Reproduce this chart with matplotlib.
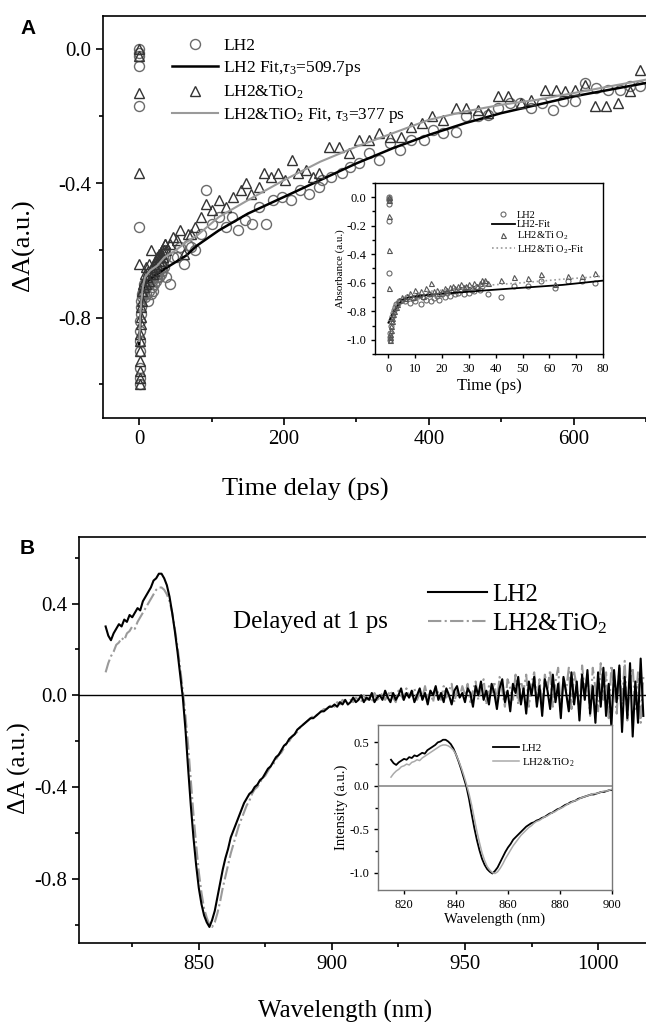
import numpy as np
import matplotlib
matplotlib.use('Agg')
import matplotlib.pyplot as plt
from matplotlib.ticker import MultipleLocator

plt.rcParams['font.family'] = 'Liberation Serif'
plt.rcParams['mathtext.fontset'] = 'custom'
plt.rcParams['mathtext.rm'] = 'Liberation Serif'
plt.rcParams['mathtext.it'] = 'Liberation Serif:italic'

# ---- panel A: kinetics (time in ps, dA in a.u.)
t_lh2 = [0.3, 0.3, 0.3, 0.3, 0.3, 0.3, 0.5, 0.6, 0.7, 0.8, 1.0, 1.3, 1.6, 2.0, 2.5, 3.0, 3.5, 4, 5, 6,
         7, 8, 9, 10, 11, 12, 13, 14, 15, 16, 17, 18, 19, 20, 21, 22, 23, 24, 25, 26,
         27, 28, 29, 30, 31, 32, 33, 34, 35, 36, 37, 42, 47, 52, 57, 62, 67, 72, 77,
         85, 92, 100, 110, 120, 128, 137, 146, 156, 165, 175, 185, 197, 210, 222, 235, 248,
         252, 265, 280, 291, 303, 317, 331, 347, 360, 375, 393, 406, 420, 437, 452, 468,
         482, 496, 512, 526, 541, 556, 572, 585, 602, 616, 631, 647, 664, 678, 692]
a_lh2 = [0.0, -0.01, -0.02, -0.05, -0.17, -0.53, -1.0, -0.98, -0.95, -0.90, -0.87, -0.84, -0.81, -0.79, -0.77, -0.75, -0.74, -0.73, -0.72, -0.73,
         -0.70, -0.74, -0.71, -0.73, -0.69, -0.75, -0.70, -0.72, -0.68, -0.73, -0.71, -0.69, -0.72, -0.68, -0.70, -0.67, -0.69, -0.66, -0.68, -0.67,
         -0.65, -0.68, -0.64, -0.67, -0.65, -0.66, -0.63, -0.65, -0.62, -0.60, -0.68, -0.70, -0.62, -0.62, -0.59, -0.64, -0.585, -0.59, -0.60,
         -0.55, -0.42, -0.52, -0.50, -0.53, -0.50, -0.54, -0.51, -0.52, -0.47, -0.52, -0.45, -0.44, -0.45, -0.42, -0.43, -0.41,
         -0.39, -0.38, -0.37, -0.35, -0.34, -0.31, -0.33, -0.28, -0.30, -0.27, -0.27, -0.24, -0.25, -0.245, -0.20, -0.20,
         -0.195, -0.175, -0.16, -0.16, -0.175, -0.16, -0.18, -0.155, -0.155, -0.10, -0.115, -0.12, -0.12, -0.11, -0.11]

t_tio2 = [0.3, 0.3, 0.3, 0.3, 0.3, 0.5, 0.6, 0.7, 0.8, 1.0, 1.2, 1.5, 1.8, 2.2, 2.7, 3.2, 4, 5, 6, 7,
          8, 9, 10, 11, 12, 13, 14, 15, 16, 17, 18, 19, 20, 21, 22, 23, 24, 25, 26, 27,
          28, 29, 30, 31, 32, 33, 34, 35, 36, 37, 42, 47, 52, 57, 62, 67, 72, 77,
          85, 92, 100, 110, 120, 130, 140, 147, 155, 165, 172, 182, 192, 202, 211, 220, 230, 240, 248,
          262, 276, 290, 303, 317, 331, 347, 362, 375, 390, 404, 420, 437, 452, 468, 482,
          496, 510, 528, 541, 560, 575, 588, 602, 616, 630, 645, 661, 678, 692]
a_tio2 = [0.0, -0.02, -0.13, -0.37, -0.64, -1.0, -0.98, -0.96, -0.93, -0.90, -0.87, -0.85, -0.82, -0.80, -0.77, -0.75, -0.72, -0.70, -0.71, -0.69,
          -0.67, -0.70, -0.65, -0.68, -0.66, -0.69, -0.64, -0.67, -0.60, -0.66, -0.65, -0.67, -0.66, -0.64, -0.65, -0.63, -0.62, -0.64, -0.62, -0.61,
          -0.63, -0.62, -0.61, -0.63, -0.60, -0.62, -0.60, -0.58, -0.58, -0.60, -0.58, -0.56, -0.57, -0.54, -0.61, -0.55, -0.55, -0.53,
          -0.50, -0.46, -0.48, -0.45, -0.47, -0.44, -0.42, -0.40, -0.43, -0.41, -0.37, -0.38, -0.37, -0.39, -0.33, -0.37, -0.36, -0.38, -0.37,
          -0.29, -0.29, -0.31, -0.27, -0.27, -0.25, -0.26, -0.26, -0.23, -0.22, -0.20, -0.21, -0.176, -0.176, -0.18, -0.19,
          -0.14, -0.14, -0.16, -0.15, -0.12, -0.12, -0.125, -0.12, -0.105, -0.17, -0.17, -0.16, -0.125, -0.06]

t_fit = [0, 0.5, 1, 2, 3, 5, 8, 15, 25, 35, 50, 65, 80, 110, 150, 200, 250, 300, 350, 400, 450, 500, 550, 600, 650, 700]
fit_lh2 = [-0.88, -0.86, -0.84, -0.80, -0.77, -0.72, -0.70, -0.685, -0.67, -0.655, -0.635, -0.615, -0.585,
           -0.54, -0.49, -0.44, -0.39, -0.34, -0.295, -0.255, -0.22, -0.19, -0.165, -0.14, -0.12, -0.10]
fit_tio2 = [-0.87, -0.85, -0.82, -0.78, -0.75, -0.71, -0.68, -0.66, -0.645, -0.62, -0.60, -0.575, -0.555,
            -0.50, -0.45, -0.39, -0.335, -0.29, -0.25, -0.21, -0.185, -0.165, -0.15, -0.13, -0.11, -0.09]

# ---- panel B: spectra at 1 ps delay, 1 nm steps from 815 nm
wl = np.arange(815, 1018)
s_lh2 = [0.30, 0.26, 0.24, 0.27, 0.29, 0.31, 0.30, 0.33, 0.32, 0.35,
         0.34, 0.36, 0.38, 0.37, 0.41, 0.43, 0.45, 0.47, 0.50, 0.51,
         0.53, 0.53, 0.51, 0.48, 0.43, 0.36, 0.28, 0.19, 0.09, -0.01,
         -0.15, -0.32, -0.48, -0.62, -0.74, -0.84, -0.91, -0.96, -0.99, -1.01,
         -0.98, -0.94, -0.88, -0.82, -0.76, -0.71, -0.67, -0.62, -0.59, -0.56,
         -0.53, -0.50, -0.47, -0.45, -0.43, -0.42, -0.40, -0.39, -0.37, -0.36,
         -0.34, -0.32, -0.31, -0.29, -0.27, -0.26, -0.24, -0.22, -0.21, -0.19,
         -0.18, -0.17, -0.15, -0.14, -0.13, -0.12, -0.11, -0.10, -0.10, -0.09,
         -0.08, -0.07, -0.07, -0.06, -0.05,
         -0.05, -0.04, -0.05, -0.03, -0.04, -0.02, -0.04, -0.03, -0.01, -0.03,
         -0.02, 0.00, -0.03, -0.01, -0.02, 0.01, -0.03, -0.01, 0.00, -0.02,
         0.02, -0.01, -0.03, 0.01, -0.02, 0.00, 0.03, -0.02, 0.01, -0.01,
         0.02, -0.03, 0.00, 0.03, -0.02, 0.01, -0.04, 0.02, 0.00, 0.04,
         -0.02, 0.01, -0.03, 0.03, 0.00, -0.04, 0.02, 0.04, -0.01, 0.01,
         -0.03, 0.03, 0.01, -0.05, 0.04, 0.00, 0.06, -0.02, 0.02, -0.04,
         0.05, 0.01, -0.06, 0.03, 0.07, -0.03, 0.02, -0.07, 0.05, 0.01,
         0.08, -0.04, 0.03, -0.08, 0.06, 0.00, 0.08, -0.05, 0.04, -0.09,
         0.07, 0.02, -0.06, 0.09, -0.03, 0.05, -0.10, 0.08, 0.01, -0.07,
         0.10, -0.04, 0.06, -0.11, 0.09, -0.02, 0.11, -0.08, 0.04, -0.12,
         0.10, -0.05, 0.12, -0.09, 0.05, -0.14, 0.11, -0.03, 0.13, -0.16,
         0.08, -0.10, 0.14, -0.18, 0.06, -0.12, 0.16, -0.09]
s_tio2 = [0.10, 0.14, 0.17, 0.19, 0.22, 0.23, 0.25, 0.24, 0.27, 0.28,
          0.30, 0.29, 0.32, 0.34, 0.36, 0.38, 0.40, 0.42, 0.44, 0.46,
          0.47, 0.47, 0.46, 0.44, 0.41, 0.36, 0.29, 0.21, 0.12, 0.02,
          -0.09, -0.22, -0.37, -0.52, -0.65, -0.77, -0.86, -0.93, -0.97, -1.00,
          -1.01, -0.99, -0.95, -0.90, -0.84, -0.79, -0.74, -0.69, -0.65, -0.61,
          -0.57, -0.54, -0.51, -0.48, -0.46, -0.43, -0.41, -0.40, -0.38, -0.36,
          -0.35, -0.33, -0.31, -0.30, -0.28, -0.26, -0.25, -0.23, -0.21, -0.20,
          -0.18, -0.17, -0.16, -0.14, -0.13, -0.12, -0.11, -0.10, -0.09, -0.09,
          -0.08, -0.07, -0.06, -0.06, -0.05,
          -0.04, -0.05, -0.03, -0.04, -0.02, -0.03, -0.04, -0.02, -0.03, -0.01,
          -0.02, -0.03, 0.00, -0.02, -0.01, -0.03, 0.01, -0.02, -0.01, 0.01,
          -0.02, 0.00, 0.02, -0.01, -0.03, 0.02, 0.00, -0.02, 0.03, -0.01,
          0.01, 0.03, -0.02, 0.01, -0.01, 0.04, -0.02, 0.02, -0.03, 0.03,
          0.01, -0.02, 0.04, -0.01, 0.02, 0.05, -0.03, 0.02, -0.01, 0.04,
          0.00, 0.05, -0.03, 0.02, 0.06, -0.02, 0.03, 0.07, -0.04, 0.04,
          0.01, 0.06, -0.03, 0.08, 0.02, -0.05, 0.07, 0.03, -0.02, 0.09,
          -0.04, 0.06, 0.02, 0.09, -0.05, 0.05, 0.10, -0.03, 0.07, -0.06,
          0.09, 0.03, 0.11, -0.05, 0.06, 0.12, -0.07, 0.08, 0.02, 0.12,
          -0.06, 0.10, 0.04, -0.08, 0.13, 0.01, 0.09, -0.09, 0.12, 0.03,
          -0.07, 0.14, -0.02, 0.10, -0.10, 0.13, 0.04, -0.08, 0.12, -0.04,
          0.15, -0.11, 0.07, 0.12, -0.06, 0.10, -0.12, 0.08]

t_lh2, a_lh2 = np.array(t_lh2), np.array(a_lh2)
t_tio2, a_tio2 = np.array(t_tio2), np.array(a_tio2)
s_lh2, s_tio2 = np.array(s_lh2), np.array(s_tio2)

CIRC = '#6a6a6a'
TRI = '#333333'
GREY = '#9a9a9a'

fig = plt.figure(figsize=(6.46, 10.22), dpi=100)


def style(ax, tick, major_len=5, minor_len=3, lw=1.2):
    for s in ax.spines.values():
        s.set_linewidth(lw)
    ax.tick_params(which='major', direction='out', length=major_len, width=lw, labelsize=tick)
    ax.tick_params(which='minor', direction='out', length=minor_len, width=lw)


# ================= A main
axA = fig.add_axes([103/646, 604/1022, 543/646, 402/1022])
axA.plot(t_lh2, a_lh2, 'o', ms=7.2, mfc='none', mec=CIRC, mew=1.0, label='LH2')
axA.plot(t_fit, fit_lh2, '-', color='black', lw=1.8, label=r'LH2 Fit,$\tau_3$=509.7ps')
axA.plot(t_tio2, a_tio2, '^', ms=7.2, mfc='none', mec=TRI, mew=1.0, label=r'LH2&TiO$_2$')
axA.plot(t_fit, fit_tio2, '-', color=GREY, lw=1.5, label=r'LH2&TiO$_2$ Fit, $\tau_3$=377 ps')
axA.set_xlim(-50, 700)
axA.set_ylim(-1.1, 0.1)
axA.xaxis.set_major_locator(MultipleLocator(200))
axA.xaxis.set_minor_locator(MultipleLocator(100))
axA.yaxis.set_major_locator(MultipleLocator(0.4))
axA.yaxis.set_minor_locator(MultipleLocator(0.2))
axA.yaxis.set_major_formatter(plt.FormatStrFormatter('%.1f'))
style(axA, 15)
axA.spines['right'].set_visible(False)
axA.set_xlabel('Time delay (ps)', fontsize=19)
axA.xaxis.set_label_coords(0.372, -0.15)
axA.set_ylabel('ΔA(a.u.)', fontsize=19)
axA.yaxis.set_label_coords(-0.125, 0.43)
axA.legend(loc='upper left', bbox_to_anchor=(0.127, 0.945), frameon=False, fontsize=12.5,
           handlelength=2.65, handletextpad=0.3, labelspacing=0.3, borderpad=0, borderaxespad=0,
           numpoints=1)

# ================= A inset
axAi = fig.add_axes([375/646, 668/1022, 228/646, 171/1022])
m = t_lh2 <= 80
axAi.plot(t_lh2[m], a_lh2[m], 'o', ms=3.6, mfc='none', mec=CIRC, mew=0.8, label='LH2')
tf = np.array(t_fit)
mf = tf <= 80
axAi.plot(tf[mf], np.array(fit_lh2)[mf], '-', color='black', lw=1.3, label='LH2-Fit')
m2 = t_tio2 <= 80
axAi.plot(t_tio2[m2], a_tio2[m2], '^', ms=3.6, mfc='none', mec='#555555', mew=0.8, label=r'LH2&Ti O$_2$')
axAi.plot(tf[mf], np.array(fit_tio2)[mf], ':', color=GREY, lw=1.2, label=r'LH2&Ti O$_2$-Fit')
axAi.set_xlim(-5, 80)
axAi.set_ylim(-1.1, 0.1)
axAi.xaxis.set_major_locator(MultipleLocator(10))
axAi.yaxis.set_major_locator(MultipleLocator(0.2))
axAi.yaxis.set_minor_locator(MultipleLocator(0.1))
axAi.yaxis.set_major_formatter(plt.FormatStrFormatter('%.1f'))
style(axAi, 9, major_len=3, minor_len=2, lw=1.0)
axAi.set_xlabel('Time (ps)', fontsize=12, labelpad=2)
axAi.set_ylabel('Absorbance (a.u.)', fontsize=8, labelpad=1)
axAi.legend(loc='upper left', bbox_to_anchor=(0.513, 0.84), frameon=False, fontsize=7.5,
            handlelength=2.2, handletextpad=0.2, labelspacing=0.05, borderpad=0, borderaxespad=0,
            numpoints=1)

# ================= B main
axB = fig.add_axes([79/646, 79/1022, 567/646, 406/1022])
axB.axhline(0, color='black', lw=1.0)
axB.plot(wl, s_tio2, '-.', color=GREY, lw=1.5, label=r'LH2&TiO$_2$')
axB.plot(wl, s_lh2, '-', color='black', lw=1.5, label='LH2')
axB.set_xlim(805, 1018)
axB.set_ylim(-1.08, 0.69)
axB.xaxis.set_major_locator(MultipleLocator(50))
axB.xaxis.set_minor_locator(MultipleLocator(25))
axB.yaxis.set_major_locator(MultipleLocator(0.4))
axB.yaxis.set_minor_locator(MultipleLocator(0.2))
axB.yaxis.set_major_formatter(plt.FormatStrFormatter('%.1f'))
style(axB, 15)
axB.spines['right'].set_visible(False)
axB.set_xlabel('Wavelength (nm)', fontsize=18)
axB.xaxis.set_label_coords(0.469, -0.14)
axB.set_ylabel('ΔA (a.u.)', fontsize=18)
axB.yaxis.set_label_coords(-0.085, 0.43)
h, l = axB.get_legend_handles_labels()
axB.legend(h[::-1], l[::-1], loc='upper left', bbox_to_anchor=(0.616, 0.885), frameon=False, fontsize=18,
           handlelength=2.36, handletextpad=0.2, labelspacing=0.2, borderpad=0, borderaxespad=0)
axB.text(0.272, 0.79, 'Delayed at 1 ps', transform=axB.transAxes, fontsize=18, va='center')

# ================= B inset
axBi = fig.add_axes([378/646, 132/1022, 234/646, 165/1022])
mi = wl <= 900
axBi.axhline(0, color='#8a8a8a', lw=1.2)
axBi.plot(wl[mi], s_lh2[mi], '-', color='black', lw=1.3, label='LH2')
axBi.plot(wl[mi], s_tio2[mi], '-', color='#aaaaaa', lw=1.1, label=r'LH2&TiO$_2$')
axBi.set_xlim(810, 900)
axBi.set_ylim(-1.2, 0.7)
axBi.xaxis.set_major_locator(MultipleLocator(20))
axBi.yaxis.set_major_locator(MultipleLocator(0.5))
axBi.yaxis.set_minor_locator(MultipleLocator(0.25))
axBi.yaxis.set_major_formatter(plt.FormatStrFormatter('%.1f'))
style(axBi, 9, major_len=3, minor_len=2, lw=1.0)
for s in axBi.spines.values():
    s.set_color('#777777')
axBi.set_xlabel('Wavelength (nm)', fontsize=10.5, labelpad=1)
axBi.set_ylabel('Intensity (a.u.)', fontsize=10.5, labelpad=1)
axBi.legend(loc='upper left', bbox_to_anchor=(0.49, 0.89), frameon=False, fontsize=8,
            handlelength=2.4, handletextpad=0.2, labelspacing=0.3, borderpad=0, borderaxespad=0)

fig.text(20/646, 1 - 28/1022, 'A', fontsize=15, fontweight='bold', family='Liberation Sans', va='center')
fig.text(20/646, 1 - 548/1022, 'B', fontsize=15, fontweight='bold', family='Liberation Sans', va='center')

fig.savefig('out.png', dpi=100)
